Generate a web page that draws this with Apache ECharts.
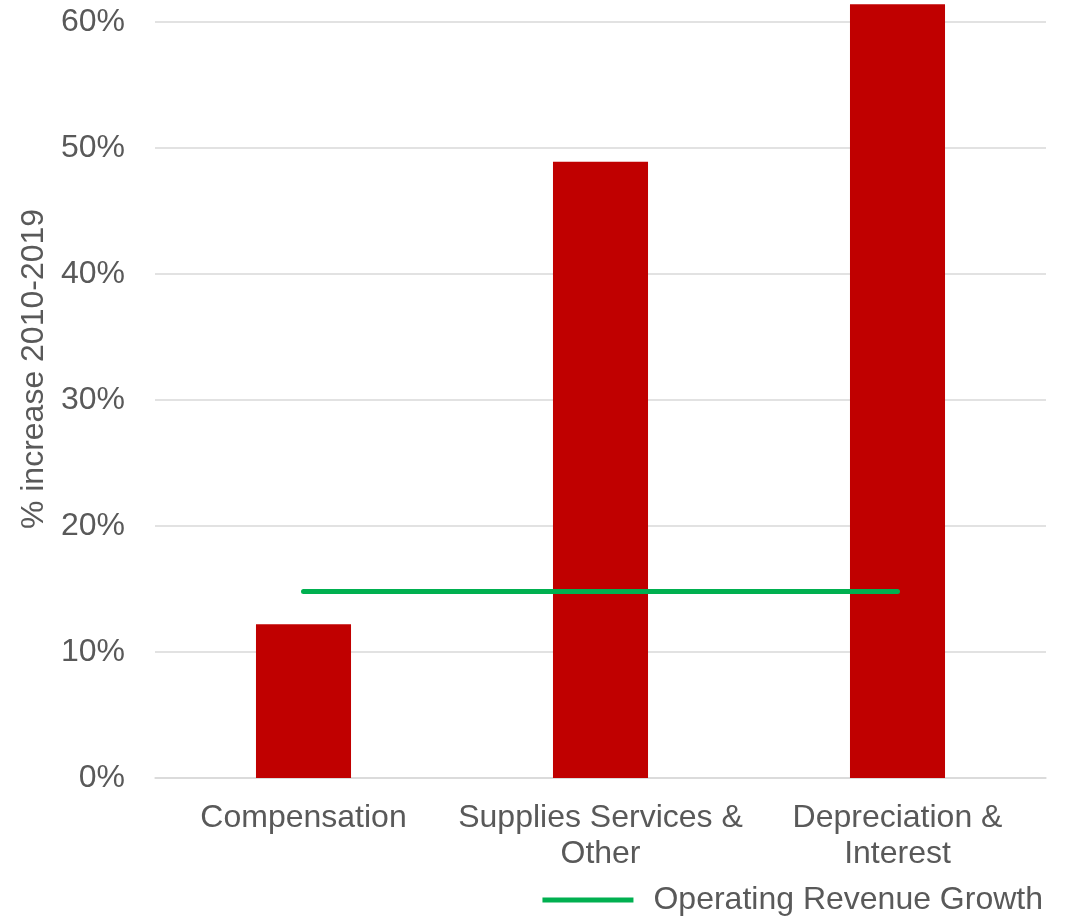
<!DOCTYPE html>
<html>
<head>
<meta charset="utf-8">
<script src="https://cdn.jsdelivr.net/npm/echarts@6/dist/echarts.min.js"></script>
<style>
html,body{margin:0;padding:0;background:#fff;}
#chart{width:1071px;height:919px;}
</style>
</head>
<body>
<div id="chart"></div>
<script>
const categories = ['Compensation', 'Supplies Services &\nOther', 'Depreciation &\nInterest'];
const costGrowth = [12.2, 48.9, 61.4];
const revenueGrowth = [14.8, 14.8, 14.8];
const yTicks = { min: 0, max: 60, interval: 10 };
const yAxisTitle = '% increase 2010-2019';
const lineName = 'Operating Revenue Growth';

const FONT = '"Liberation Sans", Arial, sans-serif';
const TXT = '#595959';
const FS = 32;

const chart = echarts.init(document.getElementById('chart'), null, { renderer: 'canvas' });
chart.setOption({
  animation: false,
  backgroundColor: '#ffffff',
  grid: { left: 155, right: 25, top: 22, bottom: 141, containLabel: false },
  legend: {
    data: [{ name: lineName, icon: 'rect' }],
    right: 23,
    bottom: -2,
    itemWidth: 91,
    itemHeight: 5,
    textStyle: { color: TXT, fontSize: FS, fontFamily: FONT, padding: [0, 0, 0, 15] }
  },
  xAxis: {
    type: 'category',
    data: categories,
    axisLine: { lineStyle: { color: '#D9D9D9', width: 1.5 } },
    axisTick: { show: false },
    axisLabel: { color: TXT, fontSize: FS, fontFamily: FONT, lineHeight: 36, margin: 22, interval: 0 }
  },
  yAxis: {
    type: 'value',
    min: yTicks.min,
    max: yTicks.max,
    interval: yTicks.interval,
    name: yAxisTitle,
    nameLocation: 'middle',
    nameGap: 101,
    nameRotate: 90,
    nameTextStyle: { color: TXT, fontSize: FS, fontFamily: FONT, padding: [0, 0, 0, 62] },
    axisLine: { show: false },
    axisTick: { show: false },
    splitLine: { lineStyle: { color: '#D9D9D9', width: 1.5 } },
    axisLabel: { color: TXT, fontSize: FS, fontFamily: FONT, margin: 30, formatter: v => v + '%' }
  },
  series: [
    {
      name: 'Cost Growth',
      type: 'bar',
      data: costGrowth,
      barWidth: '32%',
      clip: false,
      itemStyle: { color: '#C00000' }
    },
    {
      name: lineName,
      type: 'line',
      data: revenueGrowth,
      symbol: 'none',
      lineStyle: { color: '#00B050', width: 5, cap: 'round' },
      itemStyle: { color: '#00B050' },
      z: 5
    }
  ]
});
</script>
</body>
</html>
